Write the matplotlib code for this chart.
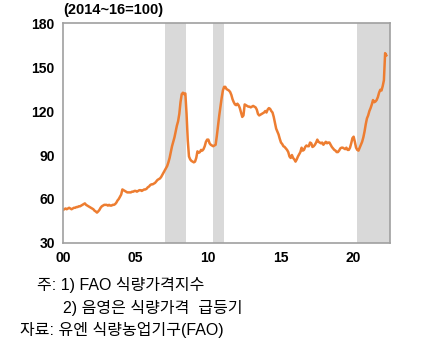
import numpy as np
import matplotlib.pyplot as plt

plt.rcParams['font.family'] = ['Liberation Sans', 'Noto Sans CJK KR', 'DejaVu Sans']

# FAO food price index, monthly (2014~16=100), Jan 2000 - Apr 2022
fpi = [
    52.5, 53, 53.5, 53, 53.5, 54, 53.5, 53, 53.5, 54, 54, 54.5,            # 2000
    54.5, 55, 55, 55.5, 56, 56.5, 57, 56, 55.5, 55, 54.5, 54,              # 2001
    53.5, 53, 52, 51.5, 50.7, 51.5, 52.5, 54, 55, 55.5, 56, 56,            # 2002
    56, 55.5, 56, 55.5, 55.5, 56, 56, 56.5, 57.5, 59, 60, 61.5,            # 2003
    63, 66.5, 66, 65.5, 65, 64.5, 64.5, 64.5, 64.5, 65, 65, 65.5,          # 2004
    65.5, 65, 65.5, 66, 66, 65.5, 66, 66.5, 66.5, 67, 68, 68.5,            # 2005
    69.5, 70, 70, 70.5, 71, 72, 73, 73.5, 74, 75, 76.5, 78,                # 2006
    79.5, 81, 82.5, 85, 88, 92, 96, 99, 102, 106, 110, 113,                # 2007
    118, 126, 131.5, 132.5, 131.5, 132, 118, 100, 89, 87, 86, 85.5,        # 2008
    85, 85.5, 88, 92.5, 91.5, 92, 93.5, 93, 94, 96, 99, 100.5,             # 2009
    100.5, 98, 97, 96.5, 96, 96.5, 97, 103, 110, 117, 123, 129,            # 2010
    134, 136.5, 136.5, 135, 134.5, 134, 133, 131, 128, 126, 124.5, 124,    # 2011
    125, 124, 122, 119, 116, 117, 124.5, 124, 123.5, 123, 123, 122.5,      # 2012
    123, 123.5, 123, 122.5, 121, 118, 117, 117.5, 118, 118.5, 119, 120,    # 2013
    119, 121, 122, 121.5, 120, 119, 116, 112, 108, 106, 104, 101,          # 2014
    98.5, 97.5, 96, 95.5, 94.5, 93.5, 92, 89, 88, 90, 88, 87,              # 2015
    85.5, 87, 89, 90.5, 92, 95, 93, 93.5, 95.5, 96.5, 96, 96,              # 2016
    98.5, 98, 95.5, 96, 97, 98.5, 100.5, 99, 98.5, 98, 98.5, 97,           # 2017
    98, 99, 98, 98.5, 98.5, 97, 95.5, 94.5, 93.5, 93, 92, 92,              # 2018
    93, 94.5, 95, 95, 94.5, 94, 95, 93.5, 93.5, 95, 98, 101.5,             # 2019
    102.5, 99, 95, 93.5, 93, 95, 97, 99, 102, 106, 111, 115,               # 2020
    117, 120, 122, 124.5, 127.5, 126, 126.5, 127.5, 129.5, 132.5, 134.5, 134,  # 2021
    137, 141, 159.5, 158,                                                  # 2022
]
t = 2000 + np.arange(len(fpi)) / 12

# price surge periods (shaded)
surges = [(2007.02, 2008.47), (2010.34, 2011.1), (2020.25, 2022.5)]

xticks = [2000, 2005, 2010, 2015, 2020]
xticklabels = ['00', '05', '10', '15', '20']
yticks = [30, 60, 90, 120, 150, 180]

fig = plt.figure(figsize=(4.29, 3.61), dpi=100)
ax = fig.add_axes([0.147, 0.327, 0.762, 0.609])

for s, e in surges:
    ax.axvspan(s, e, color='#d9d9d9', lw=0, zorder=0)
ax.plot(t, fpi, color='#ed7d31', lw=1.8, zorder=2)

ax.set_xlim(2000, 2022.5)
ax.set_ylim(30, 180)
ax.set_xticks(xticks)
ax.set_xticklabels(xticklabels)
ax.set_yticks(yticks)
ax.tick_params(length=0, labelsize=10, pad=6)
for lab in ax.get_xticklabels() + ax.get_yticklabels():
    lab.set_fontweight('bold')
for sp in ax.spines.values():
    sp.set_color('#a0a0a0')
    sp.set_linewidth(1.2)

fig.text(0.147, 0.952, '(2014~16=100)', fontsize=10.5, fontweight='bold', va='bottom')

fig.text(0.086, 0.21, '주: 1) FAO 식량가격지수', fontsize=11.5, va='center')
fig.text(0.147, 0.147, '2) 음영은 식량가격  급등기', fontsize=11.5, va='center')
fig.text(0.047, 0.086, '자료: 유엔 식량농업기구(FAO)', fontsize=11.5, va='center')

fig.savefig('out.png', dpi=100)
